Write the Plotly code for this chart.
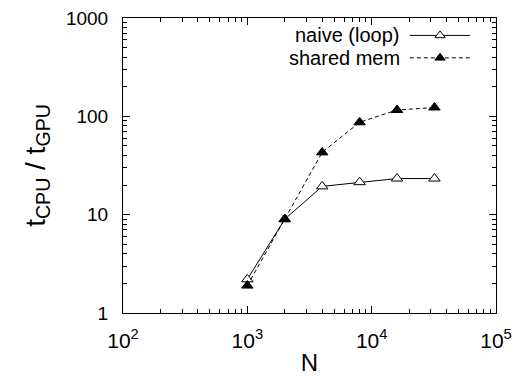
import plotly.graph_objects as go

N = [1000, 2000, 4000, 8000, 16000, 32000]
naive_loop = [2.2, 9.0, 19.4, 21.4, 23.3, 23.3]
shared_mem = [1.9, 9.0, 43.0, 87.0, 116.0, 123.0]

x_tickvals = [100, 1000, 10000, 100000]
x_ticktext = ["10<sup>2</sup>", "10<sup>3</sup>", "10<sup>4</sup>", "10<sup>5</sup>"]
y_tickvals = [1, 10, 100, 1000]
y_ticktext = ["1", "10", "100", "1000"]

legend_names = ["naive (loop)", "shared mem"]

FONT = "Liberation Sans, Arial, sans-serif"

fig = go.Figure()

fig.add_trace(go.Scatter(
    x=N, y=naive_loop, mode="lines+markers", name=legend_names[0],
    line=dict(color="black", width=1),
    marker=dict(symbol="triangle-up", size=10, color="white",
                line=dict(color="black", width=1)),
    showlegend=False,
))
fig.add_trace(go.Scatter(
    x=N, y=shared_mem, mode="lines+markers", name=legend_names[1],
    line=dict(color="black", width=1, dash="4px,3px"),
    marker=dict(symbol="triangle-up", size=10, color="black",
                line=dict(color="black", width=1)),
    showlegend=False,
))

# manual gnuplot-style key (text left of sample)
key_rows = [0.941, 0.865]
key_line = [0.769, 0.930]
key_mark = 0.850
styles = [
    dict(line=dict(color="black", width=1), fill="white"),
    dict(line=dict(color="black", width=1, dash="4px,3px"), fill="black"),
]
for name, yk, st in zip(legend_names, key_rows, styles):
    fig.add_trace(go.Scatter(
        x=key_line, y=[yk, yk], mode="lines", line=st["line"],
        xaxis="x2", yaxis="y2", showlegend=False, hoverinfo="skip"))
    fig.add_trace(go.Scatter(
        x=[key_mark], y=[yk], mode="markers",
        marker=dict(symbol="triangle-up", size=9, color=st["fill"],
                    line=dict(color="black", width=1)),
        xaxis="x2", yaxis="y2", showlegend=False, hoverinfo="skip"))
    fig.add_annotation(x=0.748, y=yk, xref="paper", yref="paper",
                       text=name, showarrow=False, xanchor="right",
                       yanchor="middle", font=dict(family=FONT, size=20, color="black"))

axis_common = dict(
    type="log", showline=True, linecolor="black", linewidth=1, mirror="allticks",
    ticks="inside", ticklen=7, tickcolor="black", showgrid=False, zeroline=False,
    automargin=False,
    minor=dict(ticks="inside", ticklen=4, tickcolor="black", dtick="D1", showgrid=False),
)

fig.update_layout(
    width=514, height=376,
    margin=dict(l=123, r=18, t=18, b=63, autoexpand=False),
    paper_bgcolor="white", plot_bgcolor="white",
    font=dict(family=FONT, color="black"),
    xaxis=dict(axis_common, range=[2, 5], tickvals=x_tickvals, ticktext=x_ticktext,
               tickfont=dict(family=FONT, size=21, color="black"),
               ticklabelstandoff=9,
               title=dict(text="N", font=dict(family=FONT, size=24), standoff=7)),
    yaxis=dict(axis_common, range=[0, 3], tickvals=y_tickvals, ticktext=y_ticktext,
               tickfont=dict(family=FONT, size=19, color="black"),
               ticklabelstandoff=10,
               title=dict(text="t<sub>CPU</sub> / t<sub>GPU</sub>",
                          font=dict(family=FONT, size=28), standoff=12)),
    xaxis2=dict(overlaying="x", range=[0, 1], visible=False),
    yaxis2=dict(overlaying="y", range=[0, 1], visible=False),
)

fig.write_html("out.html", config={"displayModeBar": False},
               post_script="document.body.style.margin='0';")
